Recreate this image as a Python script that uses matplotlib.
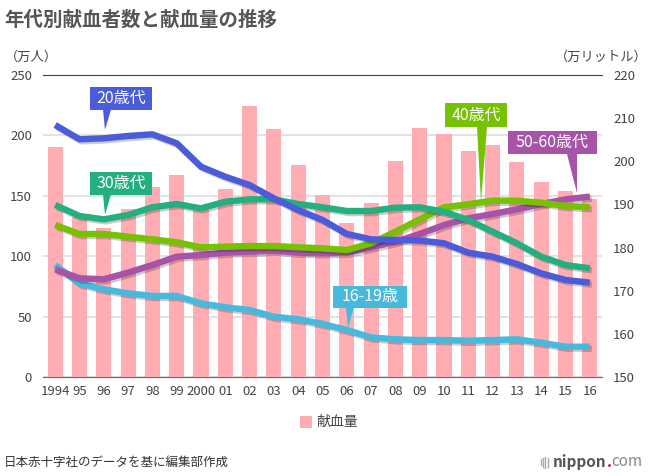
import matplotlib
matplotlib.use("Agg")
import matplotlib.pyplot as plt
import matplotlib.patheffects as pe
from matplotlib.patches import Polygon, Rectangle
from matplotlib.lines import Line2D

plt.rcParams['font.family'] = ['Noto Sans CJK JP', 'DejaVu Sans']

# ---------------- data ----------------
years = ["1994", "95", "96", "97", "98", "99", "2000", "01", "02", "03", "04", "05",
         "06", "07", "08", "09", "10", "11", "12", "13", "14", "15", "16"]
volume = [203.4, 187.0, 184.5, 188.9, 194.0, 196.8, 189.5, 193.5, 212.7, 207.5, 199.1, 192.1,
          185.6, 190.3, 200.1, 207.6, 206.3, 202.5, 203.8, 199.9, 195.3, 193.1, 191.2]
age20 = [208.6, 196.8, 197.6, 199.5, 200.9, 193.5, 174.1, 165.8, 158.9, 147.9, 138.2, 130.0,
         118.4, 114.0, 113.4, 113.0, 110.7, 102.9, 99.6, 93.5, 85.8, 80.3, 78.1]
age30 = [142.4, 133.3, 130.5, 134.1, 140.5, 143.2, 139.6, 145.1, 147.1, 147.1, 143.2, 140.5,
         137.4, 137.4, 140.2, 140.5, 136.8, 130.0, 120.3, 110.7, 99.6, 92.7, 90.0]
age40 = [125.8, 118.4, 118.4, 116.2, 114.0, 111.5, 107.4, 107.9, 108.4, 108.4, 107.4, 106.5,
         105.1, 110.7, 120.3, 130.5, 140.5, 143.0, 146.0, 146.0, 144.3, 141.6, 140.5]
age5060 = [89.1, 81.7, 80.9, 86.4, 92.7, 99.6, 101.0, 102.9, 103.7, 104.6, 102.9, 102.4,
           102.9, 107.4, 112.0, 118.4, 125.8, 131.4, 134.9, 138.8, 143.2, 147.1, 149.3]
age1619 = [92.7, 77.5, 72.6, 69.3, 67.1, 67.1, 61.0, 57.7, 55.5, 49.9, 47.8, 44.0,
           38.9, 32.8, 31.2, 30.6, 30.6, 30.0, 30.6, 31.2, 28.4, 25.1, 25.1]
left_ticks = [0, 50, 100, 150, 200, 250]
right_ticks = [150, 160, 170, 180, 190, 200, 210, 220]

# ---------------- figure ----------------
W, H = 653, 476
fig = plt.figure(figsize=(W / 100, H / 100), dpi=100)

def fx(px):
    return px / W

def fy(py):
    return 1 - py / H

L, R, T, B = 43, 602, 75, 377
rect = [fx(L), fy(B), (R - L) / W, (B - T) / H]
ax = fig.add_axes(rect)
ax2 = ax.twinx()
ax3 = ax.twinx()

x = list(range(len(years)))

# base axis: grid + left ticks
ax.set_xlim(-0.5, len(years) - 0.5)
ax.set_ylim(0, 250)
ax.set_yticks(left_ticks)
ax.yaxis.grid(True, color='#dddddd', linewidth=1.2)
ax.set_axisbelow(True)
ax.tick_params(axis='y', length=0, labelsize=9.5, labelcolor='#444444', pad=8)
ax.set_xticks(x)
ax.set_xticklabels(years)
ax.tick_params(axis='x', length=0, labelsize=9.5, labelcolor='#444444', pad=6)
for s in ['left', 'right']:
    ax.spines[s].set_visible(False)
ax.spines['top'].set_color('#444444')
ax.spines['bottom'].set_color('#666666')

# bars on right scale
ax2.set_ylim(150, 220)
ax2.set_yticks(right_ticks)
ax2.tick_params(axis='y', length=0, labelsize=9.5, labelcolor='#444444', pad=8)
bar_color = '#ffadb2'
ax2.bar(x, volume, width=0.62, color=bar_color, label='献血量', zorder=2)
for a in (ax2, ax3):
    for s in a.spines.values():
        s.set_visible(False)

# lines
ax3.set_ylim(0, 250)
ax3.set_yticks([])
shadow = [pe.SimpleLineShadow(offset=(1.5, -1.5), shadow_color='black', alpha=0.2), pe.Normal()]
series = [
    (age1619, '#47b9dd'),
    (age5060, '#a653a8'),
    (age40, '#76c100'),
    (age30, '#23b07e'),
    (age20, '#4a5bdc'),
]
for vals, col in series:
    ax3.plot(x, vals, color=col, linewidth=4.6, solid_joinstyle='round',
             solid_capstyle='butt', path_effects=shadow)

# callouts (pixel layout)
def callout(text, col, x0, y0, x1, y1, bx0, bx1, tx, ty):
    fig.patches.append(Rectangle((fx(x0), fy(y1)), (x1 - x0) / W, (y1 - y0) / H,
                                 transform=fig.transFigure, facecolor=col, edgecolor='none'))
    fig.patches.append(Polygon([(fx(bx0), fy(y1 - 0.5)), (fx(bx1), fy(y1 - 0.5)), (fx(tx), fy(ty))],
                               closed=True, transform=fig.transFigure, facecolor=col, edgecolor='none'))
    fig.text(fx((x0 + x1) / 2), fy((y0 + y1) / 2), text, color='white', fontsize=11.5,
             ha='center', va='center')

callout('20歳代', '#4a5bdc', 90, 87, 152, 110, 103, 111, 105, 130)
callout('30歳代', '#23b07e', 90, 172, 152, 195, 103, 111, 105, 215)
callout('40歳代', '#76c100', 445, 103, 507, 127, 477, 487, 481, 202)
callout('50-60歳代', '#a653a8', 508, 131, 597, 154, 567, 577, 577, 193)
callout('16-19歳', '#47b9dd', 333, 286, 407, 308, 346, 354, 348, 328)

# texts
fig.text(fx(4), fy(20), '年代別献血者数と献血量の推移', fontsize=14, fontweight='bold',
         color='#555555', ha='left', va='center')
fig.text(fx(5), fy(57), '（万人）', fontsize=9.5, color='#444444', ha='left', va='center')
fig.text(fx(648), fy(57), '（万リットル）', fontsize=9.5, color='#444444', ha='right', va='center')

# legend
fig.patches.append(Rectangle((fx(300), fy(428)), 12 / W, 12 / H, transform=fig.transFigure,
                             facecolor=bar_color, edgecolor='none'))
fig.text(fx(316), fy(422), '献血量', fontsize=10, color='#444444', ha='left', va='center')

# footer
fig.text(fx(4), fy(462), '日本赤十字社のデータを基に編集部作成', fontsize=9, color='#333333',
         ha='left', va='center')
for i, h in enumerate([6, 9, 11, 9]):
    xx = 541 + i * 2.2
    fig.lines.append(Line2D([fx(xx), fx(xx)], [fy(462 + h / 2), fy(462 - h / 2)],
                            transform=fig.transFigure, color='#aaaaaa', linewidth=1.0))
t1 = fig.text(fx(553), fy(462), 'nippon', fontsize=11, fontweight='bold', color='#555555',
              ha='left', va='center')
t2 = ax.annotate('.', xy=(1, 0), xycoords=t1, xytext=(0, 0), textcoords='offset points',
                 fontsize=11, fontweight='bold', color='#e60012', ha='left', va='bottom',
                 annotation_clip=False)
t3 = ax.annotate('com', xy=(1, 0), xycoords=t2, xytext=(0, 0), textcoords='offset points',
                 fontsize=11, color='#888888', ha='left', va='bottom', annotation_clip=False)

fig.savefig('out.png', dpi=100)
